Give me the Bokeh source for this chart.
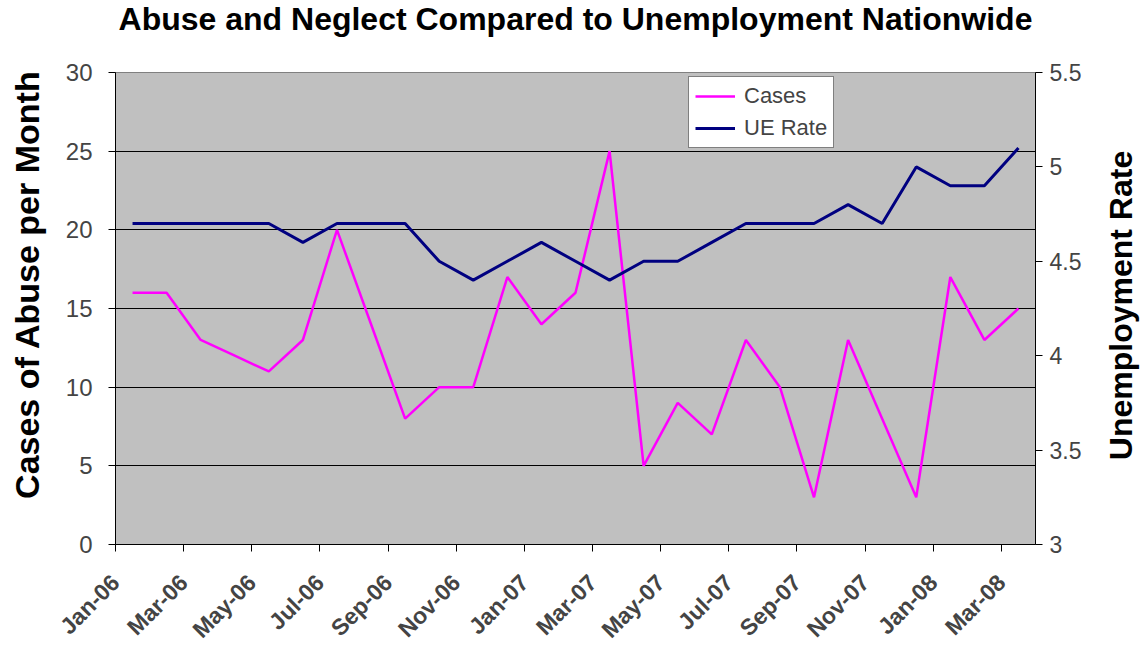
import math
from bokeh.plotting import figure
from bokeh.layouts import row
from bokeh.models import (Range1d, LinearAxis, FixedTicker, NumeralTickFormatter,
                          Legend, LegendItem, ColumnDataSource, Label, Title)
from bokeh.embed import file_html
from bokeh.resources import INLINE

# ---- data ----
months = ["Jan-06", "Feb-06", "Mar-06", "Apr-06", "May-06", "Jun-06", "Jul-06",
          "Aug-06", "Sep-06", "Oct-06", "Nov-06", "Dec-06", "Jan-07", "Feb-07",
          "Mar-07", "Apr-07", "May-07", "Jun-07", "Jul-07", "Aug-07", "Sep-07",
          "Oct-07", "Nov-07", "Dec-07", "Jan-08", "Feb-08", "Mar-08"]
cases = [16, 16, 13, 12, 11, 13, 20, 14, 8, 10, 10, 17, 14, 16, 25, 5, 9, 7,
         13, 10, 3, 13, 8, 3, 17, 13, 15]
ue_rate = [4.7, 4.7, 4.7, 4.7, 4.7, 4.6, 4.7, 4.7, 4.7, 4.5, 4.4, 4.5, 4.6, 4.5,
           4.4, 4.5, 4.5, 4.6, 4.7, 4.7, 4.7, 4.8, 4.7, 5.0, 4.9, 4.9, 5.1]
tick_labels = ["Jan-06", "Mar-06", "May-06", "Jul-06", "Sep-06", "Nov-06",
               "Jan-07", "Mar-07", "May-07", "Jul-07", "Sep-07", "Nov-07",
               "Jan-08", "Mar-08"]
left_ticks = [0, 5, 10, 15, 20, 25, 30]
right_ticks = [3, 3.5, 4, 4.5, 5, 5.5]

title_text = "Abuse and Neglect Compared to Unemployment Nationwide"
left_title = "Cases of Abuse per Month"
right_title = "Unemployment Rate"

FONT = "Liberation Sans"

# month index -> position at the middle of its month slot
xpos = [months.index(m) + 0.5 for m in months]
tick_pos = [months.index(t) for t in tick_labels]

src = ColumnDataSource(dict(x=xpos, cases=cases, ue=ue_rate))

LEFT_W = 50      # strip carrying the left axis title
SIDE_W = 42      # strip carrying the right axis title
MAIN_W = 1144 - LEFT_W - SIDE_W
FRAME_L, FRAME_R, FRAME_T, FRAME_B = 115, 1035, 72, 545   # page pixels

p = figure(width=MAIN_W, height=655, output_backend="svg", toolbar_location=None,
           x_range=Range1d(0, len(months)), y_range=Range1d(0, 30),
           min_border_left=FRAME_L - LEFT_W,
           min_border_right=LEFT_W + MAIN_W - FRAME_R,
           min_border_top=FRAME_T, min_border_bottom=655 - FRAME_B)
p.extra_y_ranges = {"ue": Range1d(3, 5.5)}

p.border_fill_color = "white"
p.background_fill_color = "#C0C0C0"
p.outline_line_color = "#808080"
p.outline_line_width = 1

# main title: a thin spacer panel next to the frame pushes the title up
p.title.text = ""
spacer = Title(text=" ", text_font_size="1px", standoff=31)
main_title = Title(text=title_text, align="center", vertical_align="top",
                   standoff=0, text_font=FONT, text_font_style="bold",
                   text_font_size="32px", text_color="black")
p.add_layout(spacer, "above")
p.add_layout(main_title, "above")

# grid
p.xgrid.visible = False
p.ygrid.grid_line_color = "black"
p.ygrid.grid_line_width = 1
p.ygrid.ticker = FixedTicker(ticks=left_ticks)

# x axis
xa = p.xaxis[0]
xa.ticker = FixedTicker(ticks=tick_pos)
xa.major_label_overrides = {t: l for t, l in zip(tick_pos, tick_labels)}
xa.major_label_orientation = math.pi / 4
xa.major_label_text_font = FONT
xa.major_label_text_font_style = "bold"
xa.major_label_text_font_size = "23px"
xa.major_label_standoff = 27
xa.major_tick_out = 7
xa.major_tick_in = 0
xa.minor_tick_out = 0
xa.minor_tick_in = 0
xa.axis_line_color = "black"
xa.major_tick_line_color = "black"

# left axis
ya = p.yaxis[0]
ya.ticker = FixedTicker(ticks=left_ticks)
ya.major_label_text_font = FONT
ya.major_label_text_font_size = "24px"
ya.major_label_standoff = 16
ya.major_tick_out = 7
ya.major_tick_in = 0
ya.minor_tick_out = 0
ya.minor_tick_in = 0
ya.axis_line_color = "black"

# right axis
ra = LinearAxis(y_range_name="ue", ticker=FixedTicker(ticks=right_ticks),
                formatter=NumeralTickFormatter(format="0.[0]"))
ra.major_label_text_font = FONT
ra.major_label_text_font_size = "23px"
ra.major_label_standoff = 7
ra.major_tick_out = 7
ra.major_tick_in = 0
ra.minor_tick_out = 0
ra.minor_tick_in = 0
ra.axis_line_color = "black"
p.add_layout(ra, "right")

# lines
r_cases = p.line("x", "cases", source=src, line_color="#FF00FF", line_width=2.5)
r_ue = p.line("x", "ue", source=src, y_range_name="ue", line_color="#000080",
              line_width=3)

legend = Legend(items=[LegendItem(label="Cases", renderers=[r_cases]),
                       LegendItem(label="UE Rate", renderers=[r_ue])],
                location=(573, 396), margin=0, padding=6, spacing=6,
                glyph_width=40, glyph_height=26, label_height=26,
                label_standoff=9,
                label_text_font=FONT, label_text_font_size="22px",
                border_line_color="black", border_line_width=1,
                background_fill_color="white", background_fill_alpha=1)
p.add_layout(legend)


def title_strip(width, text, cx, cy, size):
    """Narrow figure whose frame is aligned with the main frame; carries a
    vertical axis title reading bottom to top, centred at page px (cx, cy)."""
    f = figure(width=width, height=655, output_backend="svg",
               toolbar_location=None, x_range=Range1d(0, 1), y_range=Range1d(0, 1),
               x_axis_location=None, y_axis_location=None,
               min_border_left=0, min_border_right=0, min_border_top=0,
               min_border_bottom=0)
    f.outline_line_color = None
    f.background_fill_color = "white"
    f.border_fill_color = "white"
    f.xgrid.visible = False
    f.ygrid.visible = False
    f.add_layout(Label(x=cx, y=FRAME_B - cy, x_units="screen", y_units="screen",
                       text=text, angle=math.pi / 2, text_font=FONT,
                       text_font_style="bold", text_font_size=size,
                       text_align="center", text_baseline="middle",
                       text_color="black"))
    return f


left_strip = title_strip(LEFT_W, left_title, 26, 285, "34px")
right_strip = title_strip(SIDE_W, right_title, 1120 - LEFT_W - MAIN_W, 306, "32px")

layout = row(left_strip, p, right_strip, spacing=0)
open("out.html", "w").write(file_html(layout, INLINE))
